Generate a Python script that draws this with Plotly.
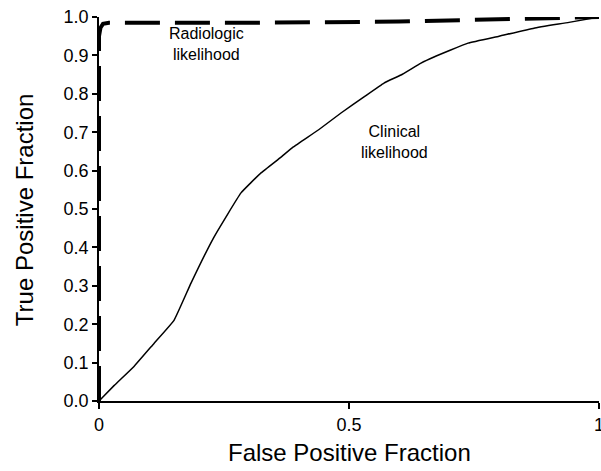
import plotly.graph_objects as go

# Clinical likelihood ROC curve
clin_fpf = [0.0, 0.03, 0.07, 0.11, 0.15, 0.184, 0.23, 0.284, 0.324, 0.364, 0.388, 0.44, 0.484, 0.53, 0.57, 0.604, 0.644, 0.67, 0.738, 0.8, 0.87, 0.94, 1.0]
clin_tpf = [0.0, 0.04, 0.09, 0.15, 0.21, 0.307, 0.427, 0.542, 0.594, 0.635, 0.661, 0.707, 0.75, 0.792, 0.828, 0.849, 0.88, 0.896, 0.932, 0.95, 0.971, 0.986, 1.0]

# Radiologic likelihood ROC curve
rad_fpf = [0.0, 0.0, 0.003, 0.008, 0.02, 0.3, 0.6, 0.8, 1.0]
rad_tpf = [0.0, 0.95, 0.972, 0.982, 0.985, 0.985, 0.988, 0.993, 1.0]

x_ticks = [0, 0.5, 1]
x_tick_labels = ["0", "0.5", "1"]
y_ticks = [i / 10 for i in range(11)]
y_tick_labels = [f"{v:.1f}" for v in y_ticks]

FONT = "Liberation Sans, Arial, sans-serif"

fig = go.Figure()
fig.add_trace(go.Scatter(x=clin_fpf, y=clin_tpf, mode="lines",
                         line=dict(color="black", width=1.5, shape="spline", smoothing=0.3),
                         cliponaxis=False, showlegend=False))
fig.add_trace(go.Scatter(x=rad_fpf, y=rad_tpf, mode="lines",
                         line=dict(color="black", width=4, dash="35px,15px"),
                         cliponaxis=False, showlegend=False))

fig.add_annotation(x=0.215, y=0.93, text="Radiologic<br>likelihood", showarrow=False,
                   font=dict(family=FONT, size=16, color="black"), xref="x", yref="y")
fig.add_annotation(x=0.59, y=0.675, text="Clinical<br>likelihood", showarrow=False,
                   font=dict(family=FONT, size=16, color="black"), xref="x", yref="y")

# axis titles
fig.add_annotation(x=-0.15, y=0.497, xref="paper", yref="paper", text="True Positive Fraction",
                   textangle=-90, showarrow=False, xanchor="center", yanchor="middle",
                   font=dict(family=FONT, size=24, color="black"))
fig.add_annotation(x=0.5, y=-0.133, xref="paper", yref="paper", text="False Positive Fraction",
                   showarrow=False, xanchor="center", yanchor="middle",
                   font=dict(family=FONT, size=24, color="black"))

fig.update_layout(
    width=601, height=471,
    margin=dict(l=99, r=2, t=17, b=70),
    paper_bgcolor="white", plot_bgcolor="white",
    font=dict(family=FONT, size=18, color="black"),
    xaxis=dict(range=[0, 1], tickvals=x_ticks, ticktext=x_tick_labels, automargin=False,
               ticklabeloverflow="allow",
               showgrid=False, zeroline=False, showline=True, linecolor="black", linewidth=2,
               ticks="outside", ticklen=6, tickwidth=1.5, tickcolor="black"),
    yaxis=dict(range=[0, 1], tickvals=y_ticks, ticktext=y_tick_labels, automargin=False,
               ticklabeloverflow="allow",
               showgrid=False, zeroline=False, showline=True, linecolor="black", linewidth=1.5,
               ticks="outside", ticklen=5, tickwidth=1.5, tickcolor="black"),
)

fig.write_html("out.html", config={"displayModeBar": False},
               post_script="document.body.style.margin='0';document.body.style.padding='0';document.body.style.overflow='hidden';")
